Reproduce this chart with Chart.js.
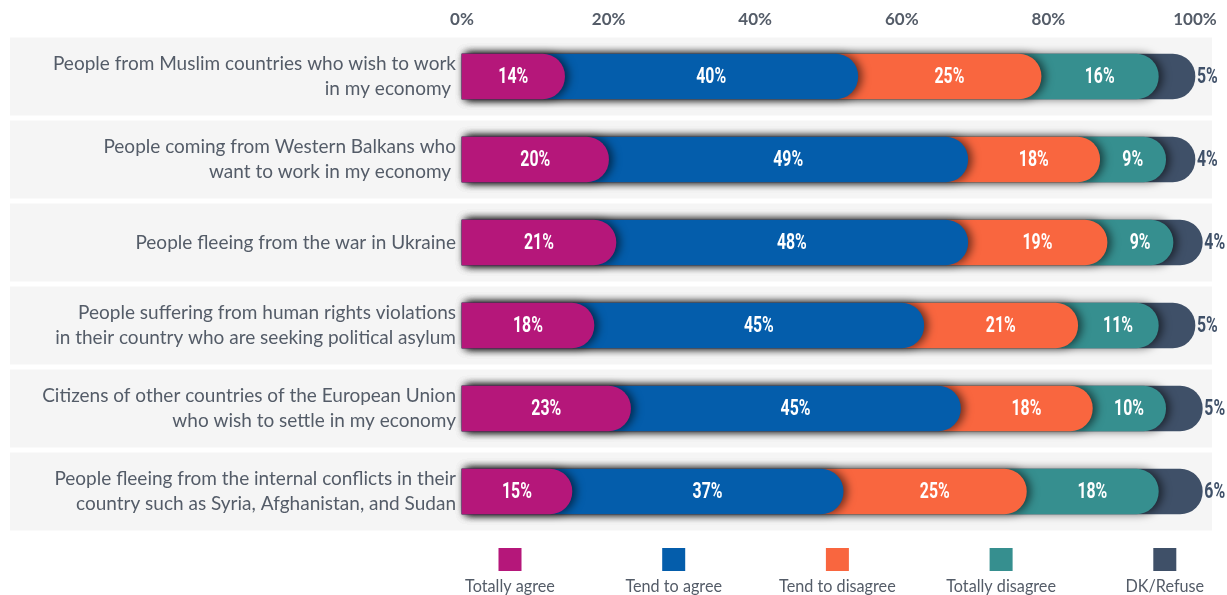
<!DOCTYPE html>
<html>
<head>
<meta charset="utf-8">
<script src="https://cdn.jsdelivr.net/npm/chart.js@4.4.1/dist/chart.umd.min.js"></script>
<style>
  html, body { margin: 0; padding: 0; background: #fff; }
  #wrap { width: 1227px; height: 595px; position: relative; }
</style>
</head>
<body>
<div id="wrap"><canvas id="attitudeChart"></canvas></div>
<script>
// Survey rows (multi-line labels as arrays)
const categories = [
    ['People from Muslim countries who wish to work', 'in my economy '],
    ['People coming from Western Balkans who', 'want to work in my economy '],
    'People fleeing from the war in Ukraine',
    ['People suffering from human rights violations', 'in their country who are seeking political asylum'],
    ['Citizens of other countries of the European Union', 'who wish to settle in my economy'],
    ['People fleeing from the internal conflicts in their', 'country such as Syria, Afghanistan, and Sudan']
];

const seriesNames = ['Totally agree', 'Tend to agree', 'Tend to disagree', 'Totally disagree', 'DK/Refuse'];

const totallyAgree    = [14, 20, 21, 18, 23, 15];
const tendToAgree     = [40, 49, 48, 45, 45, 37];
const tendToDisagree  = [25, 18, 19, 21, 18, 25];
const totallyDisagree = [16,  9,  9, 11, 10, 18];
const dkRefuse        = [ 5,  4,  4,  5,  5,  6];

const xTicks = [0, 20, 40, 60, 80, 100];

const colors = {
    pink: '#b5177a',
    blue: '#045dab',
    orange: '#f9663f',
    teal: '#368f8f',
    slate: '#3f5068',
    text: '#545c68',
    band: '#f5f5f5'
};
const seriesColors = [colors.pink, colors.blue, colors.orange, colors.teal, colors.slate];
const seriesValues = [totallyAgree, tendToAgree, tendToDisagree, totallyDisagree, dkRefuse];

// each segment is a floating bar from 0 to its running total, so the rounded
// end of a segment sits on top of the next one
const datasets = seriesValues.map((values, i) => ({
    label: seriesNames[i],
    data: values.map((v, row) => {
        let start = 0;
        for (let k = 0; k < i; k++) start += seriesValues[k][row];
        return [0, start + v];
    }),
    backgroundColor: seriesColors[i],
    borderWidth: 0,
    borderRadius: { topLeft: 0, bottomLeft: 0, topRight: 40, bottomRight: 40 },
    borderSkipped: false,
    grouped: false,
    clip: false,
    barThickness: 45
}));

// draw text squeezed horizontally (narrow look for the figures and legend)
function narrowText(ctx, text, x, y, squeeze) {
    ctx.save();
    ctx.translate(x, y);
    ctx.scale(squeeze, 1);
    ctx.fillText(text, 0, 0);
    ctx.restore();
}

// light grey band behind every row
const rowBands = {
    id: 'rowBands',
    beforeDraw(chart) {
        const { ctx, scales: { y } } = chart;
        ctx.save();
        ctx.fillStyle = colors.band;
        categories.forEach((c, j) => {
            const yc = y.getPixelForValue(j);
            ctx.fillRect(10, yc - 39, 1202, 78);
        });
        ctx.restore();
    }
};

// soft shadow cast by each rounded end onto the segment below
const segmentShadow = {
    id: 'segmentShadow',
    beforeDatasetDraw(chart, args) {
        const ctx = chart.ctx;
        ctx.save();
        if (args.index < seriesNames.length - 1) {
            ctx.shadowColor = 'rgba(0,0,0,0.55)';
            ctx.shadowBlur = 9;
            ctx.shadowOffsetX = 4;
        }
    },
    afterDatasetDraw(chart) {
        chart.ctx.restore();
    }
};

// percentage labels inside segments, last one outside the bar
const segmentLabels = {
    id: 'segmentLabels',
    afterDatasetsDraw(chart) {
        const { ctx, scales: { x } } = chart;
        ctx.save();
        ctx.font = 'bold 22px Roboto';
        ctx.textBaseline = 'middle';
        const last = seriesNames.length - 1;
        seriesNames.forEach((name, i) => {
            const meta = chart.getDatasetMeta(i);
            meta.data.forEach((bar, j) => {
                const text = seriesValues[i][j] + '%';
                if (i === last) {
                    ctx.fillStyle = colors.slate;
                    ctx.textAlign = 'left';
                    narrowText(ctx, text, bar.x + 2, bar.y + 1, 0.72);
                } else {
                    const prev = i === 0 ? x.getPixelForValue(0) : chart.getDatasetMeta(i - 1).data[j].x;
                    ctx.fillStyle = '#ffffff';
                    ctx.textAlign = 'center';
                    narrowText(ctx, text, (prev + bar.x) / 2, bar.y + 1, 0.72);
                }
            });
        });
        ctx.restore();
    }
};

// legend under the plot: swatch above its text
const swatchLegend = {
    id: 'swatchLegend',
    afterDraw(chart) {
        const ctx = chart.ctx;
        ctx.save();
        ctx.font = '18px Lato';
        ctx.textAlign = 'center';
        ctx.textBaseline = 'middle';
        seriesNames.forEach((name, i) => {
            const cx = 510 + i * 163.7;
            ctx.fillStyle = seriesColors[i];
            ctx.fillRect(cx - 11.5, 548, 23, 23);
            ctx.fillStyle = colors.text;
            narrowText(ctx, name, cx, 586, 0.9);
        });
        ctx.restore();
    }
};

const chartCtx = document.getElementById('attitudeChart').getContext('2d');
new Chart(chartCtx, {
    type: 'bar',
    data: {
        labels: categories,
        datasets: datasets
    },
    options: {
        indexAxis: 'y',
        responsive: true,
        maintainAspectRatio: false,
        animation: false,
        layout: {
            padding: { top: 0, bottom: 62, left: 0, right: 32 }
        },
        plugins: {
            legend: { display: false },
            tooltip: { enabled: false }
        },
        scales: {
            x: {
                position: 'top',
                min: 0,
                max: 100,
                afterBuildTicks: scale => {
                    scale.ticks = xTicks.map(v => ({ value: v }));
                },
                afterFit: scale => { scale.height = 35; },
                grid: { display: false, drawTicks: false },
                border: { display: false },
                ticks: {
                    padding: 5,
                    color: colors.text,
                    font: { family: 'Lato', size: 17, weight: 'bold' },
                    callback: v => v + '%'
                }
            },
            y: {
                afterFit: scale => { scale.width = 462; },
                grid: { display: false, drawTicks: false },
                border: { display: false },
                ticks: {
                    padding: 6,
                    color: colors.text,
                    font: { family: 'Lato', size: 19, lineHeight: 1.3 }
                }
            }
        }
    },
    plugins: [rowBands, segmentShadow, segmentLabels, swatchLegend]
});
</script>
</body>
</html>
